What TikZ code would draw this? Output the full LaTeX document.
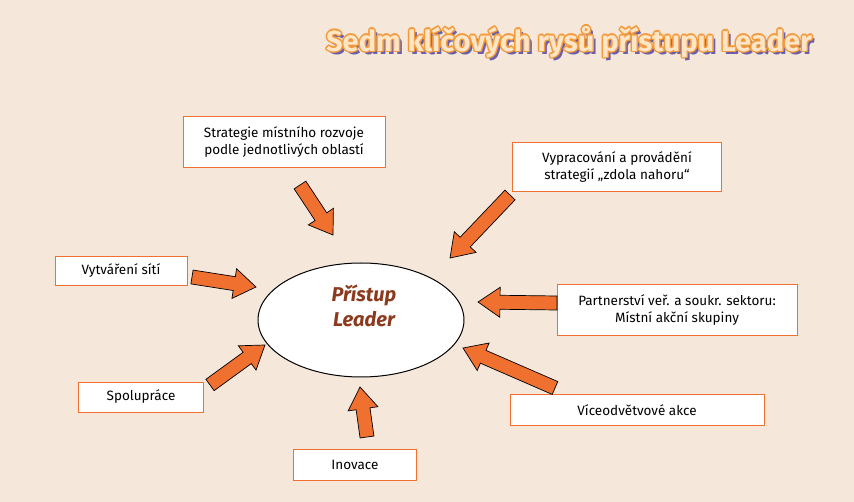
\documentclass[tikz,border=0pt]{standalone}
\usepackage{fontspec}
\setmainfont{Fira Sans}
\usetikzlibrary{calc,shapes.geometric}
\definecolor{bg}{HTML}{F5E8DA}
\definecolor{org}{HTML}{F07030}
\definecolor{brn}{HTML}{8B3A1E}
\definecolor{ttlfill}{HTML}{FDE6C8}
\definecolor{ttlline}{HTML}{F39A3C}
\definecolor{shad}{HTML}{6A5FA8}
\tikzset{
  box/.style={draw=org, line width=0.8pt, fill=white, align=center, font=\fontsize{13.5}{17}\selectfont, inner sep=5pt},
  fat/.style={fill=org, draw=black, line width=0.7pt, line join=miter}
}
\newcommand{\fatarrow}[2]{%
  \coordinate (h) at ($(#2)!22pt!(#1)$);
  \path[fat] ($(#1)!7pt!90:(#2)$) -- ($(h)!7pt!-90:(#1)$) -- ($(h)!15pt!-90:(#1)$) -- (#2)
    -- ($(h)!15pt!90:(#1)$) -- ($(h)!7pt!90:(#1)$) -- ($(#1)!7pt!-90:(#2)$) -- cycle;}
\begin{document}
\begin{tikzpicture}[x=1pt,y=-1pt]
\fill[bg] (0,0) rectangle (854,502);
\useasboundingbox (0,0) rectangle (854,502);
% title
\def\ttl{\fontsize{29}{30}\selectfont\bfseries Sedm klíčových rysů přístupu Leader}
\node[text=shad] at (572,45) {\ttl};
\foreach \dx/\dy in {-1.5/0,1.5/0,0/-1.5,0/1.5,-1/-1,1/1,-1/1,1/-1}
  \node[text=ttlline] at (569+\dx,42+\dy) {\ttl};
\node[text=ttlfill] (title) at (569,42) {\ttl};
% ellipse
\node[draw=black, line width=1pt, fill=white, ellipse, minimum width=206, minimum height=114] (c) at (361,320) {};
\node[text=brn, font=\fontsize{20}{25}\selectfont\bfseries\itshape, align=center] (ct) at (364,306) {Přístup\\Leader};
% boxes
\node[box, minimum width=202, minimum height=51] (b1) at (284,142) {Strategie místního rozvoje\\podle jednotlivých oblastí};
\node[box, minimum width=209, minimum height=49] (b2) at (617,167) {Vypracování a provádění\\strategií „zdola nahoru“};
\node[box, minimum width=132, minimum height=29] (b3) at (121,271) {Vytváření sítí};
\node[box, minimum width=240, minimum height=51] (b4) at (677,310) {Partnerství veř. a soukr. sektoru:\\Místní akční skupiny};
\node[box, minimum width=125, minimum height=30] (b5) at (141,397) {Spolupráce};
\node[box, minimum width=254, minimum height=31] (b6) at (637,410) {Víceodvětvové akce};
\node[box, minimum width=123, minimum height=31] (b7) at (355,465) {Inovace};
% arrows
\coordinate (t1) at (300,185); \coordinate (e1) at (333,235);
\coordinate (t2) at (510,195); \coordinate (e2) at (450,258);
\coordinate (t3) at (192,277); \coordinate (e3) at (256,287);
\coordinate (t4) at (557,303); \coordinate (e4) at (478,302);
\coordinate (t5) at (210,385); \coordinate (e5) at (265,345);
\coordinate (t6) at (555,388); \coordinate (e6) at (463,348);
\coordinate (t7) at (367,437); \coordinate (e7) at (360,387);
\foreach \i in {1,...,7} {\fatarrow{t\i}{e\i}}
\end{tikzpicture}
\end{document}
